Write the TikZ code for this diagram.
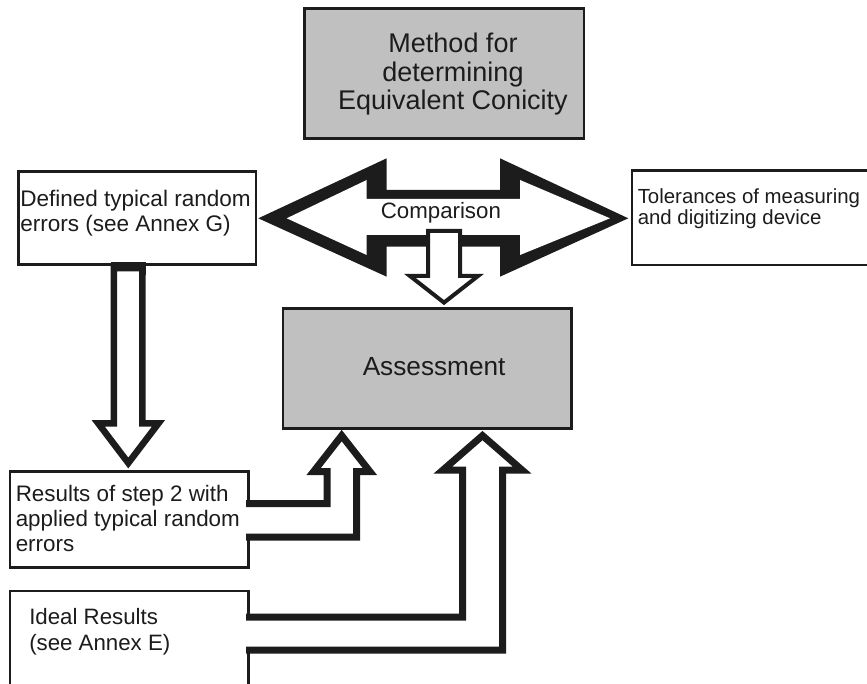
\documentclass[tikz,border=0pt]{standalone}
\usepackage{fontspec}
\setmainfont{Liberation Sans}
\definecolor{boxgray}{RGB}{192,192,192}
\definecolor{ink}{RGB}{28,28,28}
\tikzset{
  boxline/.style={draw=ink, line width=1.9pt, rectangle, inner sep=0pt},
  graybox/.style={boxline, fill=boxgray},
  whitebox/.style={boxline, fill=white},
  lbl/.style={inner sep=0pt, text=ink},
  blockarrow/.style={draw=ink, fill=white, line join=miter, miter limit=20},
}
\begin{document}
\begin{tikzpicture}[x=0.75pt,y=-0.75pt]
\useasboundingbox (0,0) rectangle (867,684);
\clip (0,0) rectangle (867,684);
\fill[white] (0,0) rectangle (867,684);

% boxes
\node[graybox, minimum width=279.7*0.75pt, minimum height=130.4*0.75pt] (method) at (444.15,73.5) {};
\node[graybox, minimum width=288.9*0.75pt, minimum height=120*0.75pt] (assess) at (427.25,368.3) {};
\node[whitebox, minimum width=237.5*0.75pt, minimum height=93*0.75pt] (defined) at (137.45,217.8) {};
\node[whitebox, minimum width=268*0.75pt, minimum height=94.3*0.75pt] (toler) at (766,217.85) {};
\node[whitebox, minimum width=238.3*0.75pt, minimum height=95.6*0.75pt] (results) at (129.15,519.5) {};
\node[whitebox, minimum width=238.3*0.75pt, minimum height=129*0.75pt] (ideal) at (129.15,655.5) {};

% comparison double arrow
\fill[ink] (258.3,218.3) -- (386.7,158.3) -- (386.7,190) -- (500,190) -- (500,158.3)
  -- (628.3,218.3) -- (500,276.7) -- (500,246.7) -- (386.7,246.7) -- (386.7,276.7) -- cycle;
\fill[white] (286.7,218.3) -- (366.7,180) -- (366.7,199) -- (520,199) -- (520,180)
  -- (610,218.3) -- (520,255) -- (520,235) -- (366.7,235) -- (366.7,255) -- cycle;

% comparison -> assessment
\draw[blockarrow, line width=3pt] (428,231) -- (428,276) -- (410,276) -- (444,302.6)
  -- (478,276) -- (460,276) -- (460,231) -- cycle;

% defined -> results
\fill[ink] (110.7,261.7) rectangle (145.7,275);
\draw[blockarrow, line width=4.9pt] (113.8,268) -- (113.8,423.3) -- (98.2,423.3) -- (128.3,463)
  -- (158.5,423.3) -- (142.4,423.3) -- (142.4,268) -- cycle;

% results -> assessment
\draw[blockarrow, line width=5.25pt] (246,503.7) -- (327,503.7) -- (327,471.7) -- (313.5,471.7)
  -- (341.7,435.6) -- (370,471.7) -- (356.7,471.7) -- (356.7,537) -- (246,537);

% ideal -> assessment
\draw[blockarrow, line width=5.25pt] (246,617) -- (462.5,617) -- (462.5,470) -- (443,470)
  -- (482.5,435.6) -- (522,470) -- (502.5,470) -- (502.5,650) -- (246,650);

% texts (anchor base = baseline of the last line)
\node[lbl, anchor=base, align=center, font={\fontsize{20.25pt}{21.6pt}\selectfont}] (methodtext) at (453,110)
  {Method for\\determining\\Equivalent Conicity};
\node[lbl, anchor=base west, font={\fontsize{16.7pt}{18.75pt}\selectfont}] (comptext) at (380.6,218.3) {Comparison};
\node[lbl, anchor=base west, align=left, font={\fontsize{16.9pt}{18.75pt}\selectfont}] (definedtext) at (20,231.7)
  {Defined typical random\\errors (see Annex G)};
\node[lbl, anchor=base west, align=left, font={\fontsize{15.3pt}{16.3pt}\selectfont}] (tolertext) at (637.5,225)
  {Tolerances of measuring\\and digitizing device};
\node[lbl, anchor=base west, font={\fontsize{19.65pt}{22pt}\selectfont}] (assesstext) at (362.5,375) {Assessment};
\node[lbl, anchor=base west, align=left, font={\fontsize{16.8pt}{18.75pt}\selectfont}] (resultstext) at (15.5,551.7)
  {Results of step 2 with\\applied typical random\\errors};
\node[lbl, anchor=base west, align=left, font={\fontsize{16.7pt}{19.5pt}\selectfont}] (idealtext) at (29,650.7)
  {Ideal Results\\(see Annex E)};
\end{tikzpicture}
\end{document}
